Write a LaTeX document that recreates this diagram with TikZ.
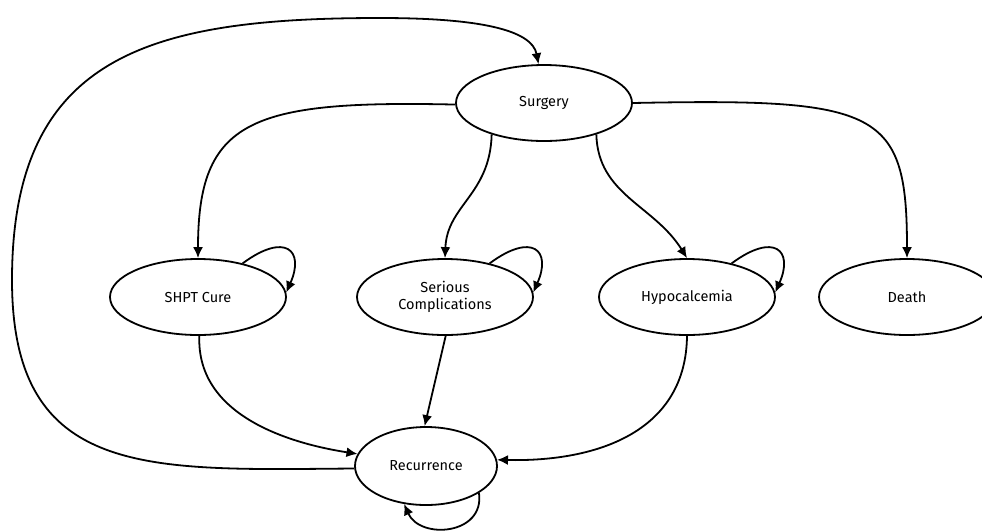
\documentclass[tikz,border=0pt]{standalone}
\usepackage{fontspec}
\setmainfont{Fira Sans}
\usetikzlibrary{shapes.geometric,arrows.meta}
\begin{document}
\begin{tikzpicture}[x=1pt,y=-1pt,
  state/.style={draw,ellipse,line width=1.8pt,minimum width=176pt,minimum height=76pt,inner sep=0pt,align=center,font=\fontsize{14.5}{17}\selectfont},
  link/.style={line width=1.8pt,-{Latex[length=11pt,width=10pt]}}]
\useasboundingbox (0,0) rectangle (982,531);
\node[state] (surg) at (544,103) {Surgery};
\node[state] (shpt) at (198,297) {SHPT Cure};
\node[state] (ser) at (445,297) {Serious\\Complications};
\node[state] (hyp) at (687,297) {Hypocalcemia};
\node[state] (dea) at (907,297) {Death};
\node[state,minimum width=142pt,minimum height=78pt] (rec) at (426,466) {Recurrence};

\draw[link] (surg.181) .. controls (250,100) and (198,120) .. (shpt.north);
\draw[link] (surg.211) .. controls (490,195) and (447,205) .. (ser.north);
\draw[link] (surg.329) .. controls (598,195) and (654,205) .. (hyp.north);
\draw[link] (surg.0) .. controls (880,98) and (907,110) .. (dea.north);

\draw[link] (shpt.37) .. controls (285,232) and (305,250) .. (shpt.3);
\draw[link] (ser.37) .. controls (532,232) and (552,250) .. (ser.3);
\draw[link] (hyp.37) .. controls (774,232) and (794,250) .. (hyp.3);

\draw[link] (shpt.272) .. controls (196,420) and (300,445) .. (rec.170);
\draw[link] (ser.271) -- (rec.92);
\draw[link] (hyp.270) .. controls (686,430) and (600,462) .. (rec.5);

\draw[link] (rec.182) .. controls (150,470) and (12,480) .. (12,280)
  .. controls (12,55) and (150,18) .. (380,18)
  .. controls (480,18) and (532,30) .. (surg.98);
\draw[link] (rec.333) .. controls (485,535) and (420,540) .. (rec.240);
\end{tikzpicture}
\end{document}
